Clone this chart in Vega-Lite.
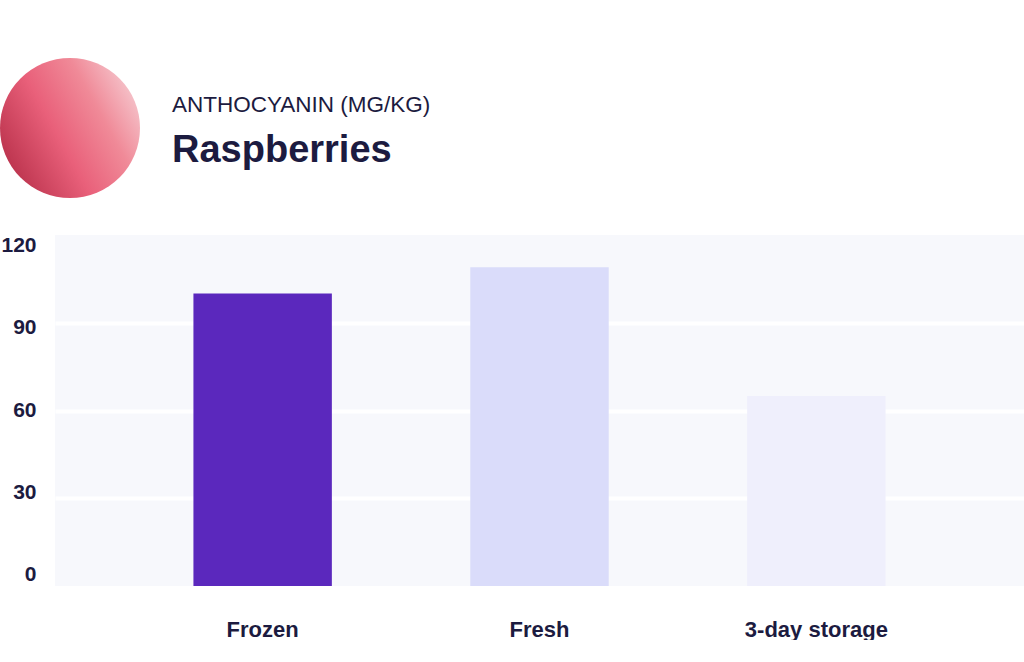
{
  "$schema": "https://vega.github.io/schema/vega-lite/v6.json",
  "padding": {"left": 0, "top": 58, "right": 0, "bottom": 0},
  "background": "#ffffff",
  "spacing": 36,
  "config": {
    "view": {"stroke": null},
    "font": "Liberation Sans"
  },
  "vconcat": [
    {
      "spacing": 32,
      "hconcat": [
        {
          "width": 85,
          "height": 140,
          "data": {"values": [{"photo": "raspberries"}]},
          "mark": {
            "type": "point",
            "shape": "circle",
            "filled": true,
            "opacity": 1,
            "size": 19600,
            "strokeWidth": 0,
            "xOffset": -27.5,
            "fill": {
              "gradient": "linear",
              "x1": 0, "y1": 0.75, "x2": 1, "y2": 0.2,
              "stops": [
                {"offset": 0, "color": "#b8304a"},
                {"offset": 0.4, "color": "#e9607a"},
                {"offset": 0.7, "color": "#f08a98"},
                {"offset": 1, "color": "#f6cdd3"}
              ]
            }
          },
          "encoding": {}
        },
        {
          "width": 700,
          "height": 140,
          "data": {"values": [
            {"line": "metric", "text": "ANTHOCYANIN (MG/KG)"},
            {"line": "name", "text": "Raspberries"}
          ]},
          "encoding": {
            "x": {"value": 0},
            "y": {
              "field": "line",
              "type": "nominal",
              "axis": null,
              "scale": {"domain": ["metric", "name"], "padding": 1.39}
            },
            "text": {"field": "text"}
          },
          "layer": [
            {
              "transform": [{"filter": "datum.line == 'metric'"}],
              "mark": {"type": "text", "align": "left", "baseline": "middle", "fontSize": 22.5, "fontWeight": "normal", "color": "#1c1b40"}
            },
            {
              "transform": [{"filter": "datum.line == 'name'"}],
              "mark": {"type": "text", "align": "left", "baseline": "middle", "fontSize": 38, "fontWeight": "bold", "color": "#1c1b40"}
            }
          ]
        }
      ]
    },
    {
      "width": 969,
      "height": 351,
      "view": {"fill": "#f7f8fc", "stroke": null},
      "data": {"values": [
        {"storage": "Frozen", "anthocyanin": 100},
        {"storage": "Fresh", "anthocyanin": 109},
        {"storage": "3-day storage", "anthocyanin": 65}
      ]},
      "mark": {"type": "bar"},
      "encoding": {
        "x": {
          "field": "storage",
          "type": "nominal",
          "sort": null,
          "title": null,
          "scale": {"paddingInner": 0.5, "paddingOuter": 0.5},
          "axis": {
            "labelAngle": 0,
            "labelFontSize": 22,
            "labelFontWeight": "bold",
            "labelColor": "#1c1b40",
            "labelPadding": 33,
            "ticks": false,
            "domain": false
          }
        },
        "y": {
          "field": "anthocyanin",
          "type": "quantitative",
          "title": null,
          "scale": {"domain": [0, 120]},
          "axis": {
            "values": [0, 30, 60, 90, 120],
            "labelFontSize": 21,
            "labelFontWeight": "bold",
            "labelColor": "#1c1b40",
            "labelPadding": 19,
            "labelOffset": {
              "condition": [
                {"test": "datum.value == 120", "value": 10},
                {"test": "datum.value == 90", "value": 5},
                {"test": "datum.value == 30", "value": -6},
                {"test": "datum.value == 0", "value": -12}
              ],
              "value": 0
            },
            "ticks": false,
            "domain": false,
            "gridColor": "#ffffff",
            "gridWidth": 4,
            "gridOpacity": {"condition": {"test": "datum.value == 0 || datum.value == 120", "value": 0}, "value": 1}
          }
        },
        "color": {
          "field": "storage",
          "type": "nominal",
          "legend": null,
          "scale": {
            "domain": ["Frozen", "Fresh", "3-day storage"],
            "range": ["#5b28bd", "#dadcfa", "#efeffc"]
          }
        }
      }
    }
  ]
}
